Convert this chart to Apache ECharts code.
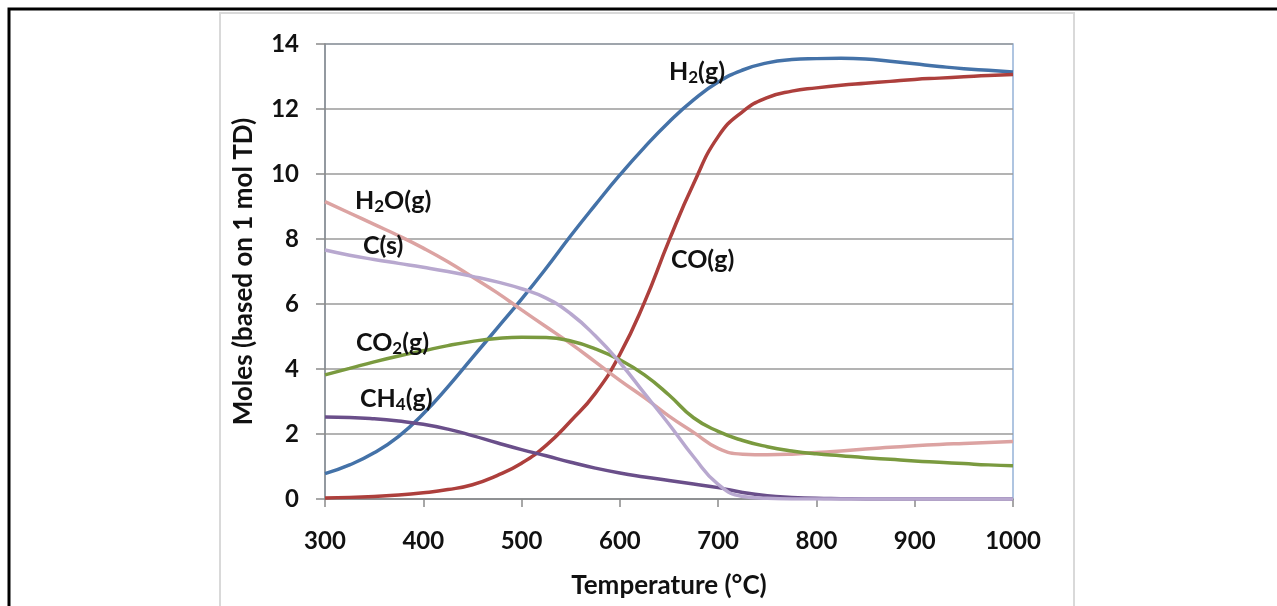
<!DOCTYPE html>
<html>
<head>
<meta charset="utf-8">
<script src="https://cdn.jsdelivr.net/npm/echarts@6/dist/echarts.min.js"></script>
<style>
  html, body { margin: 0; padding: 0; background: #ffffff; }
  #chart { width: 1277px; height: 606px; }
</style>
</head>
<body>
<div id="chart"></div>
<script>
// Equilibrium composition vs temperature (moles per 1 mol TD)
const temperatures = [300, 325, 350, 375, 400, 425, 450, 475, 500, 525, 550, 575, 600, 625, 650,
                      675, 700, 725, 750, 775, 800, 825, 850, 875, 900, 925, 950, 975, 1000];

const h2 =  [0.78, 1.05, 1.42, 1.93, 2.62, 3.45, 4.35, 5.25, 6.15, 7.10, 8.10, 9.05, 9.97, 10.82, 11.60,
             12.28, 12.83, 13.20, 13.42, 13.52, 13.55, 13.56, 13.54, 13.47, 13.39, 13.31, 13.24, 13.19, 13.14];
const co =  [0.03, 0.05, 0.08, 0.12, 0.19, 0.29, 0.44, 0.72, 1.10, 1.65, 2.40, 3.25, 4.45, 6.05, 7.95,
             9.70, 11.15, 11.92, 12.35, 12.55, 12.65, 12.73, 12.79, 12.85, 12.91, 12.95, 12.99, 13.03, 13.06];
const h2o = [9.15, 8.80, 8.45, 8.10, 7.72, 7.30, 6.83, 6.35, 5.82, 5.30, 4.78, 4.22, 3.65, 3.12, 2.55,
             2.05, 1.56, 1.38, 1.36, 1.38, 1.43, 1.48, 1.54, 1.59, 1.64, 1.68, 1.71, 1.74, 1.77];
const cs =  [7.66, 7.50, 7.37, 7.25, 7.13, 7.00, 6.85, 6.68, 6.47, 6.18, 5.70, 5.02, 4.20, 3.25, 2.30,
             1.30, 0.45, 0.08, 0.02, 0, 0, 0, 0, 0, 0, 0, 0, 0, 0];
const co2 = [3.82, 4.02, 4.22, 4.40, 4.56, 4.72, 4.85, 4.94, 4.98, 4.97, 4.86, 4.62, 4.28, 3.82, 3.20,
             2.50, 2.08, 1.80, 1.61, 1.48, 1.39, 1.33, 1.27, 1.22, 1.17, 1.13, 1.09, 1.05, 1.02];
const ch4 = [2.52, 2.51, 2.47, 2.40, 2.30, 2.15, 1.95, 1.73, 1.52, 1.33, 1.13, 0.95, 0.80, 0.68, 0.57,
             0.46, 0.35, 0.20, 0.10, 0.05, 0.02, 0.01, 0, 0, 0, 0, 0, 0, 0];

const xTicks = { min: 300, max: 1000, step: 100 };
const yTicks = { min: 0, max: 14, step: 2 };

const FONT = 'Lato, "Open Sans", sans-serif';

function pairs(values) {
  return temperatures.map((t, i) => [t, values[i]]);
}

function curve(name, values, color, z) {
  return {
    name: name,
    type: 'line',
    data: pairs(values),
    smooth: 0.5,
    showSymbol: false,
    z: z,
    lineStyle: { color: color, width: 3.5 },
    itemStyle: { color: color }
  };
}

// Rich-text curve labels with subscripts
const labelRich = {
  n:   { fontFamily: FONT, fontWeight: 'bold', fontSize: 25, color: '#111', lineHeight: 30 },
  sub: { fontFamily: FONT, fontWeight: 'bold', fontSize: 17, color: '#111', lineHeight: 30, padding: [11, 0, 0, 0] }
};
function curveLabel(x, y, text) {
  return {
    type: 'text', left: x, top: y, z: 100,
    style: { text: text, rich: labelRich, fill: '#111' }
  };
}

const chart = echarts.init(document.getElementById('chart'), null, { renderer: 'canvas' });

chart.setOption({
  animation: false,
  backgroundColor: '#ffffff',
  grid: {
    left: 325, right: 264, top: 44, bottom: 107,
    show: true, borderColor: '#95b3d7', borderWidth: 1.5, backgroundColor: 'transparent'
  },
  xAxis: {
    type: 'value',
    min: xTicks.min, max: xTicks.max, interval: xTicks.step,
    name: 'Temperature (°C)',
    nameLocation: 'middle',
    nameGap: 74,
    nameTextStyle: { fontFamily: FONT, fontWeight: 'bold', fontSize: 26, color: '#111' },
    axisLine: { lineStyle: { color: '#8a8a8a', width: 1.5 } },
    axisTick: { show: true, inside: false, length: 8, lineStyle: { color: '#8a8a8a', width: 1.5 } },
    axisLabel: { margin: 30, fontFamily: FONT, fontWeight: 'bold', fontSize: 24, color: '#111',
                 formatter: v => String(v) },
    splitLine: { show: false }
  },
  yAxis: {
    type: 'value',
    min: yTicks.min, max: yTicks.max, interval: yTicks.step,
    name: 'Moles (based on 1 mol TD)',
    nameLocation: 'middle',
    nameGap: 68,
    nameTextStyle: { fontFamily: FONT, fontWeight: 'bold', fontSize: 26, color: '#111' },
    axisLine: { show: true, lineStyle: { color: '#8a8a8a', width: 1.5 } },
    axisTick: { show: true, inside: false, length: 9, lineStyle: { color: '#8a8a8a', width: 1.5 } },
    axisLabel: { margin: 26, fontFamily: FONT, fontWeight: 'bold', fontSize: 24, color: '#111' },
    splitLine: { show: true, lineStyle: { color: '#9a9a9a', width: 1.5 } }
  },
  series: [
    curve('H2(g)', h2, '#4472a8', 3),
    curve('CO(g)', co, '#ad3f3c', 3),
    curve('H2O(g)', h2o, '#dca3a2', 3),
    curve('CO2(g)', co2, '#7a9a3f', 3),
    curve('CH4(g)', ch4, '#6a4f8a', 3),
    curve('C(s)', cs, '#b8a8cf', 4)
  ],
  graphic: [
    // outer page frame
    { type: 'rect', z: 0, shape: { x: 9, y: 9, width: 1400, height: 800 },
      style: { fill: 'none', stroke: '#000', lineWidth: 3 } },
    // chart frame
    { type: 'rect', z: 0, shape: { x: 220, y: 13, width: 854, height: 600 },
      style: { fill: 'none', stroke: '#d9d9d9', lineWidth: 2 } },
    curveLabel(669, 58, '{n|H}{sub|2}{n|(g)}'),
    curveLabel(671, 247, '{n|CO(g)}'),
    curveLabel(355, 187, '{n|H}{sub|2}{n|O(g)}'),
    curveLabel(363, 233, '{n|C(s)}'),
    curveLabel(356, 329, '{n|CO}{sub|2}{n|(g)}'),
    curveLabel(360, 385, '{n|CH}{sub|4}{n|(g)}')
  ]
});
</script>
</body>
</html>
